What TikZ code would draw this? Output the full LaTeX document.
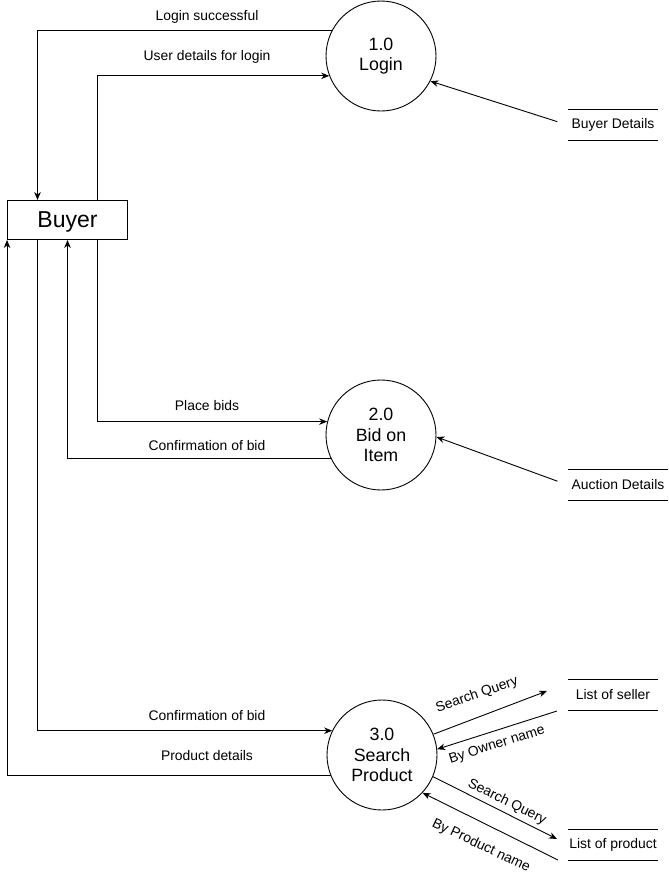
\documentclass[tikz,border=0pt]{standalone}
\usepackage{fontspec}
\setmainfont{Liberation Sans}
\usetikzlibrary{arrows.meta}
\begin{document}
\begin{tikzpicture}[x=1pt,y=-1pt,
  arr/.style={draw=black,line width=0.9pt,-{Stealth[length=8pt,width=6.5pt,inset=2.5pt]}},
  proc/.style={circle,draw,line width=0.9pt,minimum size=110pt,inner sep=0pt,align=center,font=\fontsize{17.8}{20.5}\selectfont},
  ent/.style={rectangle,draw,line width=0.9pt,minimum width=120pt,minimum height=39pt,inner sep=0pt,text depth=0pt,font=\fontsize{23}{26}\selectfont},
  store/.style={minimum height=30pt,inner sep=0pt,font=\fontsize{13.9}{16}\selectfont},
  lbl/.style={font=\fontsize{13.9}{16}\selectfont,inner sep=1pt}]
\useasboundingbox (0,0) rectangle (669,876);
\fill[white] (0,0) rectangle (669,876);

\node[ent] (buyer) at (67.5,220) {Buyer};
\node[proc] (c1) at (381,56) {1.0\\Login};
\node[proc] (c2) at (381,435) {2.0\\Bid on\\Item};
\node[proc] (c3) at (382,755) {3.0\\Search\\Product};

\node[store,minimum width=90pt] (bd) at (613,125) {Buyer Details};
\node[store,minimum width=100pt] (ad) at (618,485) {Auction Details};
\node[store,minimum width=90pt] (ls) at (613,695) {List of seller};
\node[store,minimum width=90pt] (lp) at (613,845) {List of product};
\foreach \s in {bd,ad,ls,lp}{
  \draw[line width=0.9pt] (\s.north west) -- (\s.north east);
  \draw[line width=0.9pt] (\s.south west) -- (\s.south east);
}

% Login
\draw[arr] (c1.152) -| ([xshift=-30pt]buyer.north);
\node[lbl] at (207,16.5) {Login successful};
\draw[arr] ([xshift=30pt]buyer.north) |- (c1.201);
\node[lbl] at (207,56.5) {User details for login};
\draw[arr,shorten <=11pt] (bd.west) -- (c1.-27);

% Bid
\draw[arr] ([xshift=30pt]buyer.south) |- (c2.166);
\node[lbl] at (207,406) {Place bids};
\draw[arr] (c2.205) -| (buyer.south);
\node[lbl] at (207,446) {Confirmation of bid};
\draw[arr,shorten <=11pt] (ad.west) -- (c2.-2);

% Search
\draw[arr] ([xshift=-30pt]buyer.south) |- (c3.154);
\node[lbl] at (207,716) {Confirmation of bid};
\draw[arr] (c3.202) -| (buyer.south west);
\node[lbl] at (207,756) {Product details};

\coordinate (sq1e) at (547,691);
\coordinate (boS) at (557,711);
\coordinate (sq2e) at (557,839);
\coordinate (bpS) at (558,860);
\draw[arr] (c3.22) -- (sq1e);
\node[lbl,rotate=19] at (477,695) {Search Query};
\draw[arr] (boS) -- (c3.6);
\node[lbl,rotate=17.6] at (497,745) {By Owner name};
\draw[arr] (c3.-23) -- (sq2e);
\node[lbl,rotate=-26.6] at (507,802) {Search Query};
\draw[arr] (bpS) -- (c3.-43);
\node[lbl,rotate=-25.5] at (481,846) {By Product name};
\end{tikzpicture}
\end{document}
